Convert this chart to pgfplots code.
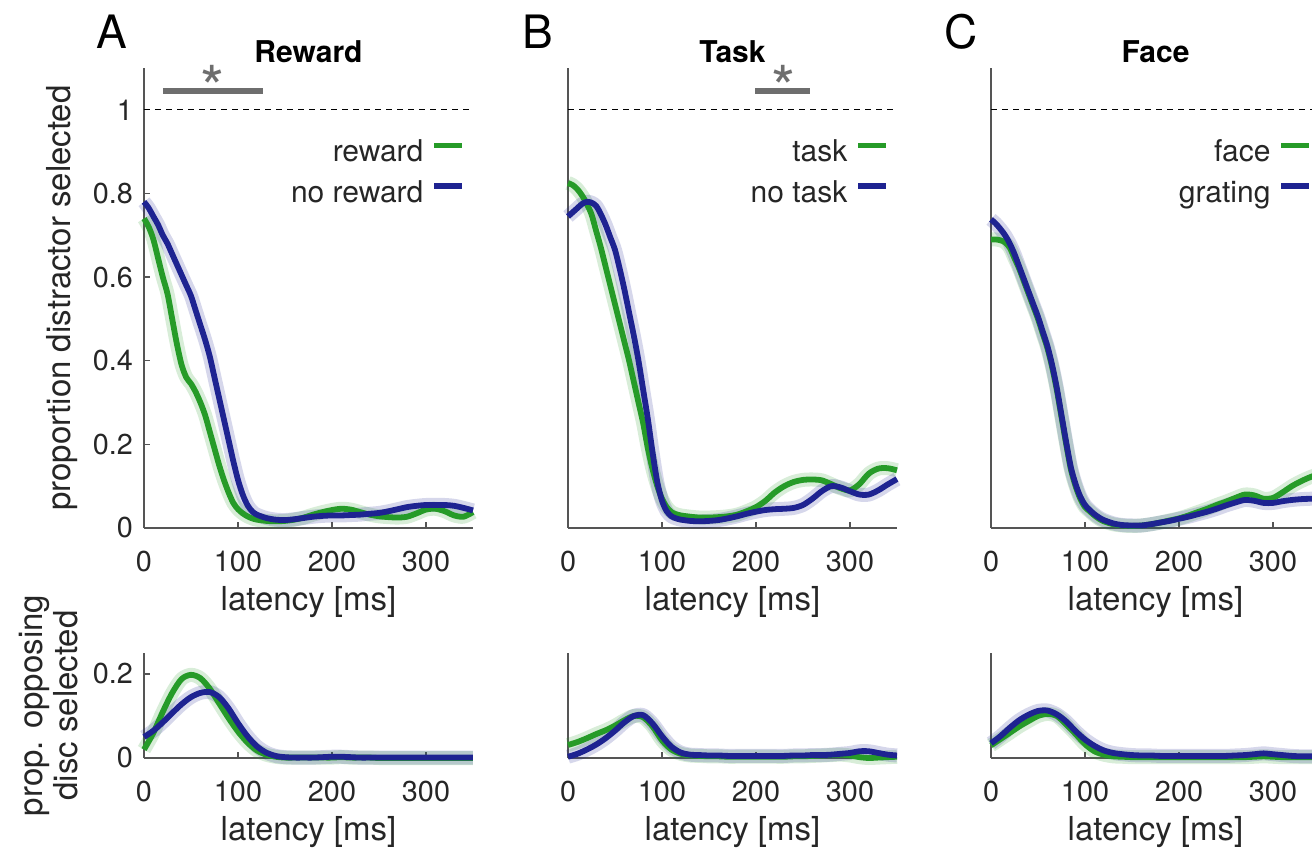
\documentclass[border=0pt]{standalone}
\usepackage{fontspec}
\setmainfont{TeX Gyre Heros}
\usepackage{pgfplots}
\usepackage{pgfplotstable}
\pgfplotsset{compat=1.18}

\definecolor{cgreen}{RGB}{38,155,40}
\definecolor{cblue}{RGB}{30,35,145}
\definecolor{axgray}{RGB}{85,85,85}
\definecolor{sig}{RGB}{110,110,110}

% top row: proportion distractor selected
\pgfplotstableread{
x g b
0 0.74 0.78
5 0.72 0.765
10 0.69 0.745
15 0.645 0.725
20 0.60 0.70
25 0.56 0.68
30 0.50 0.655
35 0.44 0.63
40 0.39 0.605
45 0.36 0.58
50 0.345 0.555
55 0.325 0.52
60 0.30 0.485
65 0.27 0.45
70 0.23 0.41
75 0.19 0.36
80 0.15 0.31
85 0.115 0.26
90 0.085 0.21
95 0.06 0.16
100 0.045 0.115
105 0.035 0.08
110 0.028 0.055
115 0.023 0.04
120 0.02 0.032
130 0.017 0.024
140 0.016 0.02
150 0.017 0.019
160 0.02 0.021
170 0.025 0.024
180 0.032 0.027
190 0.038 0.029
200 0.043 0.03
210 0.046 0.03
220 0.044 0.031
230 0.038 0.032
240 0.032 0.034
250 0.028 0.036
260 0.026 0.04
270 0.025 0.045
280 0.027 0.05
290 0.035 0.053
300 0.044 0.055
310 0.046 0.055
320 0.04 0.055
330 0.03 0.053
340 0.027 0.048
350 0.038 0.042
}\topA

\pgfplotstableread{
x g b
0 0.825 0.745
5 0.82 0.755
10 0.81 0.765
15 0.795 0.775
20 0.775 0.78
25 0.75 0.778
30 0.71 0.77
35 0.67 0.75
40 0.625 0.725
45 0.58 0.695
50 0.535 0.665
55 0.49 0.62
60 0.445 0.57
65 0.40 0.515
70 0.35 0.46
75 0.30 0.40
80 0.25 0.33
85 0.19 0.26
90 0.14 0.18
95 0.10 0.11
100 0.07 0.065
105 0.05 0.04
110 0.038 0.028
115 0.033 0.023
120 0.03 0.02
130 0.027 0.017
140 0.025 0.016
150 0.025 0.017
160 0.026 0.019
170 0.028 0.023
180 0.032 0.028
190 0.04 0.034
200 0.05 0.039
210 0.065 0.043
220 0.085 0.045
230 0.10 0.046
240 0.11 0.048
250 0.115 0.055
260 0.116 0.07
270 0.114 0.088
280 0.105 0.10
290 0.095 0.097
300 0.09 0.088
310 0.105 0.08
320 0.13 0.08
330 0.142 0.09
340 0.143 0.104
350 0.138 0.117
}\topB

\pgfplotstableread{
x g b
0 0.69 0.738
5 0.69 0.728
10 0.688 0.715
15 0.683 0.70
20 0.67 0.68
25 0.645 0.655
30 0.62 0.625
35 0.59 0.595
40 0.56 0.565
45 0.53 0.535
50 0.50 0.505
55 0.465 0.47
60 0.43 0.435
65 0.385 0.39
70 0.33 0.335
75 0.265 0.27
80 0.20 0.205
85 0.14 0.145
90 0.10 0.105
95 0.07 0.075
100 0.05 0.055
105 0.04 0.043
110 0.03 0.033
115 0.022 0.025
120 0.016 0.019
130 0.009 0.011
140 0.006 0.007
150 0.005 0.006
160 0.006 0.006
170 0.009 0.009
180 0.013 0.013
190 0.018 0.017
200 0.023 0.022
210 0.03 0.027
220 0.038 0.033
230 0.046 0.039
240 0.055 0.046
250 0.063 0.054
260 0.072 0.061
270 0.08 0.067
280 0.078 0.065
290 0.07 0.06
300 0.072 0.06
310 0.085 0.064
320 0.10 0.067
330 0.112 0.069
340 0.122 0.07
350 0.13 0.071
}\topC

% bottom row: proportion opposing disc selected
\pgfplotstableread{
x gA bA gB bB gC bC
0 0.02 0.05 0.031 0.003 0.03 0.035
10 0.06 0.065 0.038 0.01 0.045 0.052
20 0.11 0.085 0.047 0.02 0.06 0.072
30 0.155 0.107 0.057 0.032 0.075 0.09
40 0.188 0.128 0.066 0.047 0.088 0.103
50 0.198 0.145 0.077 0.065 0.10 0.112
60 0.19 0.155 0.09 0.085 0.105 0.113
70 0.165 0.157 0.10 0.10 0.10 0.104
80 0.13 0.145 0.097 0.102 0.08 0.087
90 0.095 0.118 0.075 0.082 0.057 0.064
100 0.063 0.083 0.042 0.052 0.033 0.044
110 0.037 0.052 0.02 0.027 0.016 0.029
120 0.018 0.028 0.01 0.013 0.008 0.018
130 0.008 0.013 0.006 0.008 0.004 0.012
140 0.003 0.005 0.005 0.007 0.003 0.009
150 0.001 0.002 0.004 0.006 0.002 0.007
160 0.001 0.001 0.004 0.006 0.002 0.006
170 0.001 0.001 0.003 0.005 0.002 0.006
180 0.001 0.001 0.003 0.005 0.002 0.005
190 0.001 0.002 0.003 0.005 0.002 0.005
200 0.001 0.003 0.003 0.005 0.002 0.005
210 0.002 0.003 0.003 0.005 0.002 0.005
220 0.001 0.002 0.003 0.005 0.002 0.005
230 0.001 0.001 0.003 0.005 0.002 0.005
240 0.001 0.001 0.004 0.006 0.002 0.005
250 0.0 0.001 0.004 0.006 0.002 0.005
260 0.0 0.001 0.005 0.007 0.002 0.006
270 0.0 0.001 0.006 0.007 0.002 0.007
280 0.0 0.001 0.007 0.008 0.003 0.009
290 0.0 0.001 0.008 0.01 0.004 0.011
300 0.0 0.001 0.006 0.012 0.003 0.009
310 0.0 0.001 0.002 0.016 0.002 0.007
320 0.0 0.001 0.0 0.016 0.002 0.005
330 0.0 0.001 0.001 0.012 0.002 0.004
340 0.0 0.001 0.002 0.008 0.002 0.004
350 0.0 0.001 0.003 0.006 0.002 0.004
}\bottom

\tikzset{sigstar/.style={text=sig, font=\fontsize{31}{31}\selectfont, yshift=-7.5pt}}

\pgfplotsset{
  panel/.style={
    scale only axis, width=164.5pt,
    xmin=0, xmax=350, clip=false,
    axis x line*=bottom, axis y line*=left,
    axis line style={draw=axgray, line width=0.7pt},
    tick style={draw=axgray, line width=0.6pt},
    tick align=inside, major tick length=3pt,
    xtick={0,100,200,300},
    /pgf/number format/assume math mode=true,
    ticklabel style={font=\fontsize{14.4}{16}\selectfont, text=black!85},
    xticklabel style={yshift=-8pt},
    yticklabel style={xshift=-2pt},
    xlabel={latency [ms]},
    xlabel style={at={(axis description cs:0.5,0)}, anchor=center, yshift=-37pt,
      font=\fontsize{16.5}{18}\selectfont, text=black!85},
    ylabel style={anchor=center, font=\fontsize{16.5}{17.5}\selectfont, text=black!85, align=center},
  },
  toprow/.style={panel, height=230pt, ymin=0, ymax=1.1,
    title style={at={(axis description cs:0.5,1)}, anchor=center, yshift=2.3pt,
      font=\bfseries\fontsize{15}{18}\selectfont},
    legend style={draw=none, fill=none, inner sep=0pt, outer sep=0pt,
      at={(axis description cs:1,0.848)}, anchor=north east, xshift=-4pt,
      font=\fontsize{15}{18}\selectfont, row sep=6pt, column sep=3pt,
      nodes={inner sep=1pt, text=black!85}},
    legend plot pos=right, legend cell align=right,
    legend image code/.code={\draw[line width=2.8pt] (0pt,3.5pt) -- (14pt,3.5pt);},
  },
  botrow/.style={panel, height=52.5pt, ymin=0, ymax=0.25},
  band/.style={line width=7pt, opacity=0.18, smooth, forget plot, line join=round},
  curve/.style={line width=2.9pt, smooth, line join=round},
  one/.style={black, line width=0.5pt, dash pattern=on 3pt off 2.5pt, forget plot},
  sigbar/.style={sig, line width=3pt, forget plot},
}

\begin{document}
\begin{tikzpicture}
\path[use as bounding box] (0pt,0pt) rectangle (656pt,423.5pt);
\clip (0pt,0pt) rectangle (656pt,423.5pt);

% ---- A ----
\begin{axis}[toprow, at={(72pt,159.5pt)}, anchor=south west,
  title={Reward}, ytick={0,0.2,0.4,0.6,0.8,1},
  ylabel={proportion distractor selected},
  ylabel style={at={(axis description cs:-0.249,0.5)}}]
  \addplot[one] coordinates {(0,1) (350,1)};
  \addplot[sigbar] coordinates {(20,1.045) (127,1.045)};
  \node[sigstar] at (axis cs:73,1.088) {*};
  \addplot[band, cgreen] table[y=g] {\topA};
  \addplot[band, cblue] table[y=b] {\topA};
  \addplot[curve, cgreen] table[y=g] {\topA};
  \addplot[curve, cblue] table[y=b] {\topA};
  \legend{reward, no reward}
\end{axis}

% ---- B ----
\begin{axis}[toprow, at={(284pt,159.5pt)}, anchor=south west,
  title={Task}, ytick=\empty]
  \addplot[one] coordinates {(0,1) (350,1)};
  \addplot[sigbar] coordinates {(199,1.045) (257,1.045)};
  \node[sigstar] at (axis cs:229,1.088) {*};
  \addplot[band, cgreen] table[y=g] {\topB};
  \addplot[band, cblue] table[y=b] {\topB};
  \addplot[curve, cgreen] table[y=g] {\topB};
  \addplot[curve, cblue] table[y=b] {\topB};
  \legend{task, no task}
\end{axis}

% ---- C ----
\begin{axis}[toprow, at={(495.5pt,159.5pt)}, anchor=south west,
  title={Face}, ytick=\empty]
  \addplot[one] coordinates {(0,1) (350,1)};
  \addplot[band, cgreen] table[y=g] {\topC};
  \addplot[band, cblue] table[y=b] {\topC};
  \addplot[curve, cgreen] table[y=g] {\topC};
  \addplot[curve, cblue] table[y=b] {\topC};
  \legend{face, grating}
\end{axis}

% ---- bottom row ----
\begin{axis}[botrow, at={(72pt,44.5pt)}, anchor=south west,
  ytick={0,0.2},
  ylabel={prop. opposing\\disc selected},
  ylabel style={at={(axis description cs:-0.29,0.5)}}]
  \addplot[band, cgreen] table[y=gA] {\bottom};
  \addplot[band, cblue] table[y=bA] {\bottom};
  \addplot[curve, cgreen] table[y=gA] {\bottom};
  \addplot[curve, cblue] table[y=bA] {\bottom};
\end{axis}

\begin{axis}[botrow, at={(284pt,44.5pt)}, anchor=south west, ytick=\empty]
  \addplot[band, cgreen] table[y=gB] {\bottom};
  \addplot[band, cblue] table[y=bB] {\bottom};
  \addplot[curve, cgreen] table[y=gB] {\bottom};
  \addplot[curve, cblue] table[y=bB] {\bottom};
\end{axis}

\begin{axis}[botrow, at={(495.5pt,44.5pt)}, anchor=south west, ytick=\empty]
  \addplot[band, cgreen] table[y=gC] {\bottom};
  \addplot[band, cblue] table[y=bC] {\bottom};
  \addplot[curve, cgreen] table[y=gC] {\bottom};
  \addplot[curve, cblue] table[y=bC] {\bottom};
\end{axis}

% panel letters
\node[font=\fontsize{23}{23}\selectfont] at (56pt,407.5pt) {A};
\node[font=\fontsize{23}{23}\selectfont] at (269pt,407.5pt) {B};
\node[font=\fontsize{23}{23}\selectfont] at (480.5pt,407.5pt) {C};
\end{tikzpicture}
\end{document}
